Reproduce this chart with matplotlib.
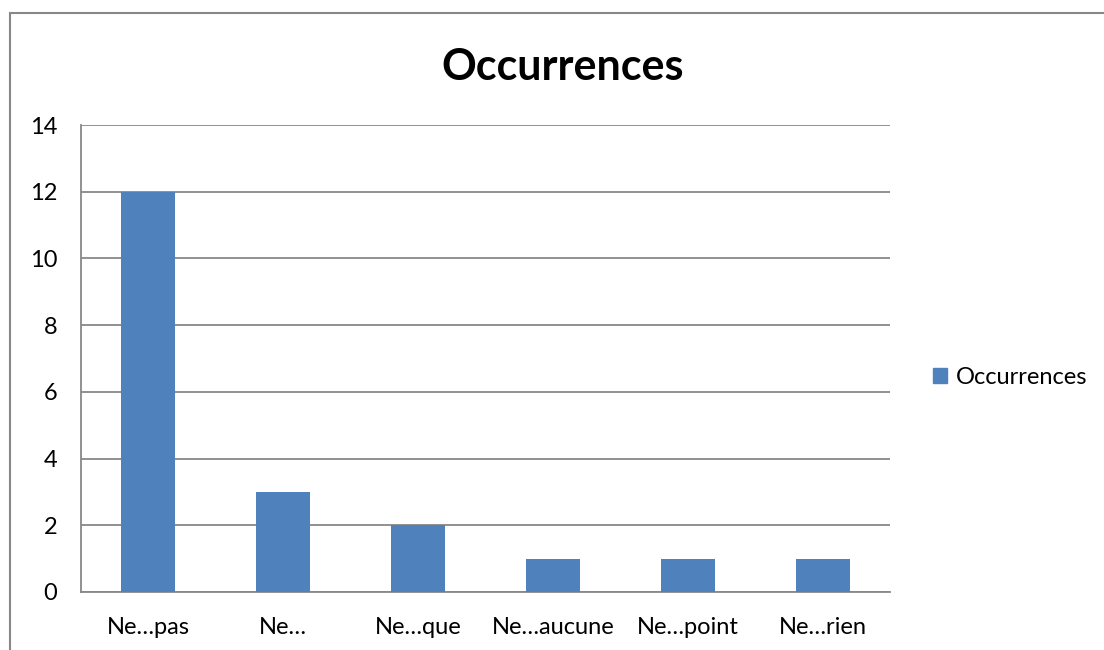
import matplotlib
matplotlib.use("Agg")
import matplotlib.pyplot as plt
from matplotlib.patches import Rectangle, Patch

plt.rcParams["font.family"] = ["Lato", "DejaVu Sans"]

categories = ["Ne…pas", "Ne…", "Ne…que", "Ne…aucune", "Ne…point", "Ne…rien"]
occurrences = [12, 3, 2, 1, 1, 1]
y_ticks = [0, 2, 4, 6, 8, 10, 12, 14]

bar_color = "#4F81BD"
grid_color = "#888888"

fig = plt.figure(figsize=(11.04, 6.5), dpi=100)
ax = fig.add_axes([81 / 1104, 58 / 650, 809 / 1104, 467 / 650])

x = range(len(categories))
ax.bar(x, occurrences, width=0.4, color=bar_color, zorder=3)

ax.set_xlim(-0.5, len(categories) - 0.5)
ax.set_ylim(0, 14)
ax.set_yticks(y_ticks)
ax.set_xticks(list(x))
ax.set_xticklabels(categories)
ax.tick_params(axis="both", length=0, labelsize=17, colors="black")
ax.tick_params(axis="x", pad=18)
ax.tick_params(axis="y", pad=17)

ax.yaxis.grid(True, color=grid_color, linewidth=1.3, zorder=0)
ax.set_axisbelow(True)
for side in ["top", "right"]:
    ax.spines[side].set_visible(False)
for side in ["left", "bottom"]:
    ax.spines[side].set_color(grid_color)
    ax.spines[side].set_linewidth(1.3)

fig.text(563 / 1104, 1 - 67 / 650, "Occurrences", ha="center", va="center",
         fontsize=31, fontweight="bold")

handle = Patch(color=bar_color, label="Occurrences")
fig.legend(handles=[handle], loc="center left", bbox_to_anchor=(912 / 1104, 1 - 377 / 650),
           frameon=False, fontsize=17, handlelength=0.6, handleheight=0.6,
           handletextpad=0.35)

# outer chart border (only the top and left edges are visible)
fig.add_artist(Rectangle((10 / 1104, -0.1), 1.2, 1 - 13 / 650 + 0.1,
                         transform=fig.transFigure, fill=False,
                         edgecolor=grid_color, linewidth=1.5))

fig.savefig("out.png", dpi=100)
